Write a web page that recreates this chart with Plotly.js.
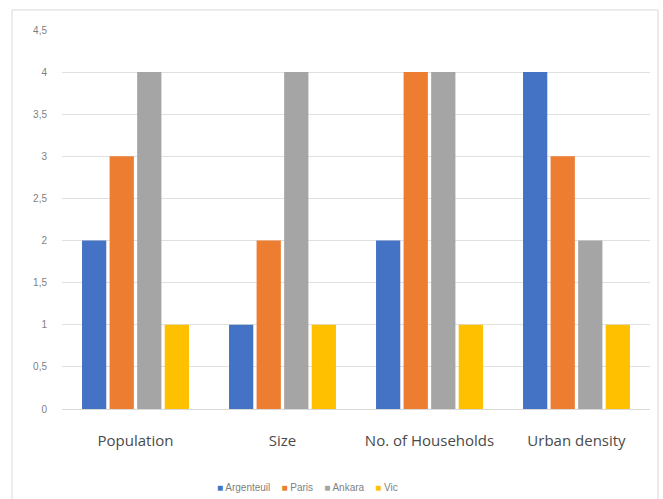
<!DOCTYPE html>
<html>
<head>
<meta charset="utf-8">
<script src="https://cdn.plot.ly/plotly-3.0.1.min.js"></script>
<style>
html,body{margin:0;padding:0;background:#fff;}
#chart{width:663px;height:499px;}
</style>
</head>
<body>
<div id="chart"></div>
<script>
const categories = ["Population", "Size", "No. of Households", "Urban density"];
const argenteuil = [2, 1, 2, 4];
const paris = [3, 2, 4, 3];
const ankara = [4, 4, 4, 2];
const vic = [1, 1, 1, 1];
const seriesNames = ["Argenteuil", "Paris", "Ankara", "Vic"];
const seriesColors = ["#4472C4", "#ED7D31", "#A5A5A5", "#FFC000"];
const tickVals = [0, 0.5, 1, 1.5, 2, 2.5, 3, 3.5, 4, 4.5];
const tickText = ["0", "0,5", "1", "1,5", "2", "2,5", "3", "3,5", "4", "4,5"];

const values = [argenteuil, paris, ankara, vic];
const data = values.map((v, i) => ({
  type: "bar",
  name: seriesNames[i],
  x: categories,
  y: v,
  marker: {color: seriesColors[i]},
  hoverinfo: "x+y+name"
}));

const legendText = seriesNames.map((n, i) =>
  '<span style="color:' + seriesColors[i] + '">■</span> ' + n
).join('    ');

const layout = {
  width: 663,
  height: 499,
  margin: {l: 62, r: 13, t: 30, b: 90},
  paper_bgcolor: "#fff",
  plot_bgcolor: "#fff",
  barmode: "group",
  bargap: 0.25,
  bargroupgap: 0.12,
  showlegend: false,
  font: {family: "Liberation Sans, Arial, sans-serif"},
  xaxis: {
    automargin: false,
    tickfont: {size: 15, color: "#4a4a4a", family: "Open Sans, sans-serif", weight: 500},
    showgrid: false,
    showline: true,
    linecolor: "#d9d9d9",
    linewidth: 1,
    ticks: "",
    ticklabelstandoff: 18
  },
  yaxis: {
    automargin: false,
    range: [0, 4.5],
    tickvals: tickVals,
    ticktext: tickText,
    tickfont: {size: 10, color: "#7f7f7f"},
    showgrid: true,
    gridcolor: "#e0e0e0",
    zeroline: false,
    showline: false,
    ticks: "",
    ticklabelstandoff: 14
  },
  annotations: [{
    xref: "paper", yref: "paper",
    x: 0.418, y: -0.208,
    xanchor: "center", yanchor: "middle",
    showarrow: false,
    text: legendText,
    font: {size: 10, color: "#7f7f7f", family: "Liberation Sans, Arial, sans-serif"}
  }],
  shapes: [{
    type: "rect", xref: "paper", yref: "paper",
    x0: -0.085, x1: 1.0136, y0: -0.35, y1: 1.053,
    line: {color: "#d9d9d9", width: 1},
    fillcolor: "rgba(0,0,0,0)"
  }]
};

Plotly.newPlot("chart", data, layout, {displayModeBar: false});
</script>
</body>
</html>
